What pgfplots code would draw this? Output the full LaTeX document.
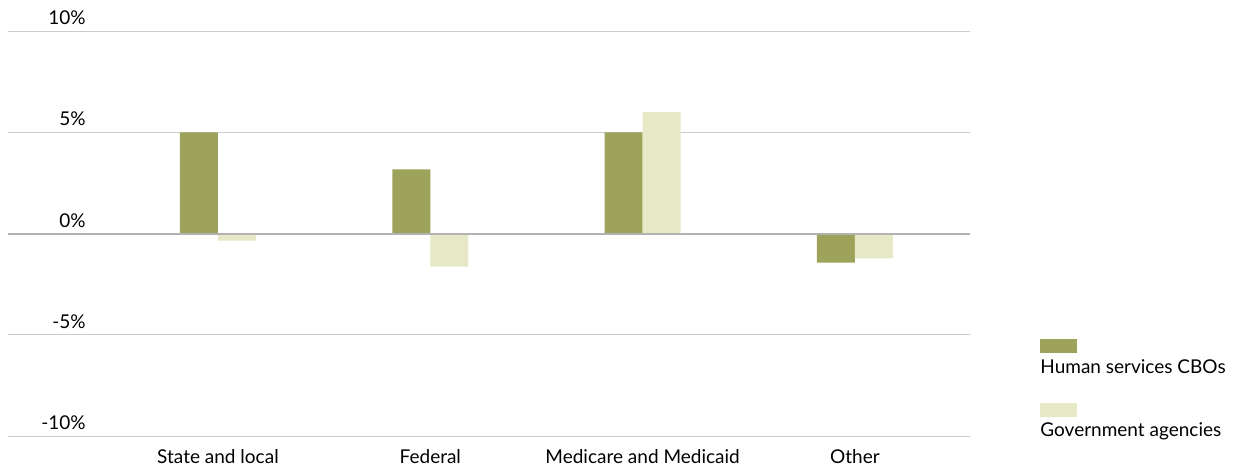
\documentclass[border=0pt]{standalone}
\usepackage{fontspec}
\setmainfont{Lato}
\usepackage{pgfplots}
\pgfplotsset{compat=1.18}
\definecolor{cbogreen}{HTML}{9DA35B}
\definecolor{govbeige}{HTML}{E7E8C5}
\definecolor{gridgray}{HTML}{CCCCCC}
\definecolor{zerogray}{HTML}{B2B2B2}
\begin{document}
\fontsize{9.5}{11}\selectfont
\begin{tikzpicture}
\begin{axis}[
    at={(4pt,-218pt)}, anchor=south west,
    scale only axis,
    width=481pt, height=202.5pt,
    ybar=0pt, bar width=19pt,
    xmin=-0.989, xmax=3.542,
    ymin=-10, ymax=10,
    xtick={0,1,2,3},
    xticklabels={State and local, Federal, Medicare and Medicaid, Other},
    ytick={-10,-5,0,5,10},
    yticklabels={-10\%, -5\%, 0\%, 5\%, 10\%},
    axis line style={draw=none},
    major tick length=0pt,
    ymajorgrids=true,
    grid style={gridgray, line width=0.5pt},
    yticklabel style={anchor=base east, inner sep=0pt, xshift=39pt, yshift=3.2pt},
    xticklabel style={anchor=base, inner sep=0pt, yshift=-13.5pt},
    tick label style={font=\fontsize{9.5}{11}\selectfont},
    clip=false,
]
\addplot[fill=cbogreen, draw=none] coordinates {(0,5.0) (1,3.17) (2,5.0) (3,-1.44)};
\addplot[fill=govbeige, draw=none] coordinates {(0,-0.35) (1,-1.63) (2,6.0) (3,-1.23)};
\draw[zerogray, line width=1pt] (axis cs:-0.989,0) -- (axis cs:3.542,0);
\end{axis}
% legend
\fill[cbogreen] (520pt,-169.5pt) rectangle (538.5pt,-176.5pt);
\node[anchor=base west, inner sep=0pt] at (520pt,-186.5pt) {Human services CBOs};
\fill[govbeige] (520pt,-201.5pt) rectangle (538.5pt,-208.5pt);
\node[anchor=base west, inner sep=0pt] at (520pt,-218pt) {Government agencies};
\pgfresetboundingbox
\path[use as bounding box] (0,0) rectangle (618pt,-236pt);
\end{tikzpicture}
\end{document}
